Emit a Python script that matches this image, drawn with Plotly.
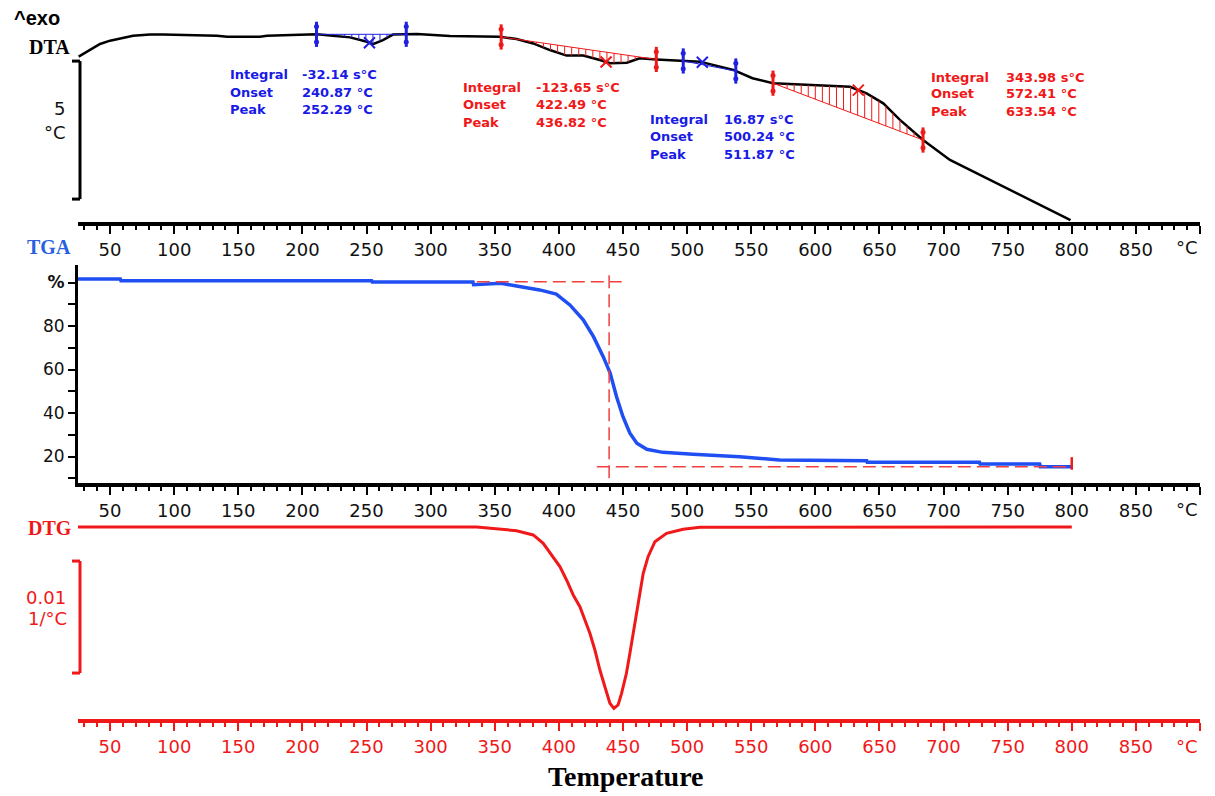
import numpy as np
import plotly.graph_objects as go

# ---------------- data ----------------
# DTA curve (temperature in °C, signal in °C units)
dta_T = [25.5, 34.4, 42.2, 50, 57.8, 67.9, 81.2, 91.3, 133.4, 141.2, 166.9, 172.4, 198, 211.4, 223.8,
         237.1, 250.4, 255, 262.8, 270.6, 289.3, 315, 354, 367, 380, 393, 406, 419, 432, 440, 453,
         463, 476, 494, 510, 536, 551, 567, 604, 627, 640, 653, 666, 684, 705, 731, 757, 783, 799]
dta_v = [5.99, 6.23, 6.45, 6.57, 6.66, 6.75, 6.79, 6.79, 6.75, 6.71, 6.71, 6.75, 6.78, 6.80, 6.75,
         6.69, 6.53, 6.44, 6.59, 6.79, 6.81, 6.74, 6.71, 6.63, 6.47, 6.23, 6.03, 6.03, 5.87, 5.75, 5.77,
         5.93, 5.89, 5.84, 5.81, 5.51, 5.21, 5.03, 4.94, 4.90, 4.66, 4.30, 3.70, 2.97, 2.25, 1.64, 1.04, 0.43, 0.07]

# DTA peak evaluation
blue_limits = [(211, 281), (497, 538)]
red_limits = [(355, 476), (567, 684)]
blue_peaks = [252.29, 511.87]
red_peaks = [436.82, 633.54]
blue_results = [("-32.14 s°C", "240.87 °C", "252.29 °C"), ("16.87 s°C", "500.24 °C", "511.87 °C")]
red_results = [("-123.65 s°C", "422.49 °C", "436.82 °C"), ("343.98 s°C", "572.41 °C", "633.54 °C")]

# TGA curve (%)
tga_T = [25, 58, 58.5, 254, 254.5, 333, 333.5, 345, 355, 367, 385, 398, 408.6, 419, 427, 434.6, 440,
         445, 450, 455.3, 460.8, 468.6, 481, 504.6, 541, 572, 604, 640, 640.5, 728, 728.5, 775, 775.5, 800]
tga_v = [101.6, 101.6, 100.8, 100.8, 100.2, 100.2, 99.0, 99.3, 99.6, 98.4, 96.6, 94.7, 89.7, 82.8, 75.1,
         65.9, 58.4, 47.5, 38.3, 30.8, 26.1, 23.3, 21.9, 21.0, 19.9, 18.4, 18.1, 18.1, 17.4, 17.4, 16.6,
         16.6, 15.3, 15.3]
tga_onset_T = 439.2
tga_top_level = 100.4
tga_bottom_level = 15.3

# DTG curve (1/°C)
dtg_T = [25, 335.8, 367, 380, 387.8, 395.6, 400.8, 406, 411.2, 416.4, 420.3, 424.2, 428.1, 432, 435.9,
         439.8, 442.9, 446.2, 448.9, 452.7, 455.4, 458, 460.6, 463.2, 465.8, 469.6, 474.9, 484, 496.9, 510, 800]
dtg_v = [0, 0, -0.00033, -0.00071, -0.00146, -0.00265, -0.00354, -0.00473, -0.00607, -0.00711, -0.0083,
         -0.00949, -0.01098, -0.01277, -0.01426, -0.01574, -0.01619, -0.01589, -0.01485, -0.01306, -0.01128,
         -0.00949, -0.00741, -0.00563, -0.00413, -0.00265, -0.00131, -0.00056, -0.00021, -0.00003, 0]

tick_vals = list(range(50, 901, 50))
tick_text = [str(v) for v in range(50, 851, 50)] + [""]
unit_label = "°C"

# ---------------- styling ----------------
OFF = 8                      # page body margin of the html file
W, H = 1207, 788
L, R = 70, 15                # plot area spans 78..1200 px of the window
BLUE_TXT = "#1a1ae6"
RED = "#f01818"
TGA_BLUE = "#1f4ff2"
TXT_FONT = "DejaVu Sans"


def px_x(px):
    return (px - OFF - L) / (W - L - R)


def px_y(py):
    return (H - (py - OFF)) / H


fig = go.Figure()

# DTA curve
fig.add_trace(go.Scatter(x=dta_T, y=dta_v, xaxis="x", yaxis="y", mode="lines",
                         line=dict(color="black", width=2.5), hoverinfo="skip"))


def hatch(t0, t1, step=5.5):
    b0, b1 = np.interp([t0, t1], dta_T, dta_v)
    xs, ys = [], []
    for t in np.arange(t0 + step, t1, step):
        c = float(np.interp(t, dta_T, dta_v))
        b = b0 + (b1 - b0) * (t - t0) / (t1 - t0)
        xs += [t, t, None]
        ys += [b, c, None]
    xs += [t0, t1]
    ys += [b0, b1]
    return xs, ys


for limits, col in ((blue_limits, "#2020e0"), (red_limits, RED)):
    for (t0, t1) in limits:
        hx, hy = hatch(t0, t1)
        fig.add_trace(go.Scatter(x=hx, y=hy, xaxis="x", yaxis="y", mode="lines",
                                 line=dict(color=col, width=1), hoverinfo="skip"))

# limit markers and peak crosses
for limits, peaks, col in ((blue_limits, blue_peaks, "#2020e0"), (red_limits, red_peaks, RED)):
    lt = [t for pair in limits for t in pair]
    lv = list(np.interp(lt, dta_T, dta_v))
    fig.add_trace(go.Scatter(x=lt, y=lv, xaxis="x", yaxis="y", mode="markers",
                             marker=dict(symbol="line-ns", size=18, line=dict(color=col, width=3)),
                             hoverinfo="skip"))
    fig.add_trace(go.Scatter(x=lt + lt, y=[v + 0.28 for v in lv] + [v - 0.28 for v in lv],
                             xaxis="x", yaxis="y", mode="markers",
                             marker=dict(symbol="circle", size=5, color=col), hoverinfo="skip"))
    pv = list(np.interp(peaks, dta_T, dta_v))
    fig.add_trace(go.Scatter(x=peaks, y=pv, xaxis="x", yaxis="y", mode="markers",
                             marker=dict(symbol="x-thin", size=11, line=dict(color=col, width=2)),
                             hoverinfo="skip"))

# TGA curve and onset construction
fig.add_trace(go.Scatter(x=tga_T, y=tga_v, xaxis="x2", yaxis="y2", mode="lines",
                         line=dict(color=TGA_BLUE, width=3.5), hoverinfo="skip"))
dash = dict(color="#f04040", width=1.5, dash="13px,6px")
fig.add_trace(go.Scatter(x=[336, 449], y=[tga_top_level] * 2, xaxis="x2", yaxis="y2", mode="lines",
                         line=dash, hoverinfo="skip"))
fig.add_trace(go.Scatter(x=[tga_onset_T] * 2, y=[10.0, 105.7], xaxis="x2", yaxis="y2", mode="lines",
                         line=dash, hoverinfo="skip"))
fig.add_trace(go.Scatter(x=[429.6, 800], y=[tga_bottom_level] * 2, xaxis="x2", yaxis="y2", mode="lines",
                         line=dash, hoverinfo="skip"))
fig.add_trace(go.Scatter(x=[800], y=[tga_v[-1] + 1.5], xaxis="x2", yaxis="y2", mode="markers",
                         marker=dict(symbol="line-ns", size=9, line=dict(color=RED, width=2.5)),
                         hoverinfo="skip"))

# DTG curve
fig.add_trace(go.Scatter(x=dtg_T, y=dtg_v, xaxis="x3", yaxis="y3", mode="lines",
                         line=dict(color=RED, width=3), hoverinfo="skip"))


def xaxis(anchor, color):
    return dict(domain=[0, 1], anchor=anchor, range=[25, 900], showline=True, linewidth=4,
                linecolor=color, ticks="outside", ticklen=8, tickwidth=1.5, tickcolor=color,
                tickmode="array", tickvals=tick_vals, ticktext=tick_text,
                tickfont=dict(family=TXT_FONT, size=18, color=color if color != "black" else "#111"),
                minor=dict(tick0=0, dtick=10, ticks="outside", ticklen=4, tickwidth=1.5, tickcolor=color),
                showgrid=False, zeroline=False, fixedrange=True, automargin=False)


hidden_y = dict(showline=False, showticklabels=False, ticks="", showgrid=False, zeroline=False,
                fixedrange=True)

fig.update_layout(
    width=W, height=H, margin=dict(l=L, r=R, t=0, b=0),
    paper_bgcolor="white", plot_bgcolor="white", showlegend=False,
    xaxis=xaxis("y", "black"),
    xaxis2=xaxis("y2", "black"),
    xaxis3=xaxis("y3", RED),
    yaxis=dict(domain=[px_y(222), px_y(15)], range=[0, 7.5], anchor="x", **hidden_y),
    yaxis2=dict(domain=[px_y(483), px_y(265)], range=[100 - (483 - 282.5) / 2.175, 100 + (282.5 - 265) / 2.175],
                anchor="x2", showline=True, linewidth=3, linecolor="black", ticks="outside", ticklen=7,
                tickwidth=1.5, tickcolor="black", tickmode="array", tickvals=[20, 40, 60, 80, 100],
                ticktext=["20", "40", "60", "80", "<b>%</b>"],
                tickfont=dict(family=TXT_FONT, size=17, color="#111"),
                minor=dict(dtick=10, tick0=0, ticks="outside", ticklen=7, tickwidth=1.5, tickcolor="black"),
                showgrid=False, zeroline=False, fixedrange=True, automargin=False),
    yaxis3=dict(domain=[px_y(719), px_y(515)], range=[-(719 - 527) / 112 * 0.01, (527 - 515) / 112 * 0.01],
                anchor="x3", **hidden_y),
)


# scale brackets
def bracket(yref, y0, y1, color):
    xa, xb = px_x(80), px_x(72)
    for p in ([(xa, y0), (xa, y1)], [(xb, y0), (xa, y0)], [(xb, y1), (xa, y1)]):
        fig.add_shape(type="line", xref="paper", yref=yref, x0=p[0][0], y0=p[0][1], x1=p[1][0], y1=p[1][1],
                      line=dict(color=color, width=3))


bracket("y", 0.83, 0.83 + 5, "black")
bracket("y3", -0.01304, -0.01304 + 0.01, RED)

# DTA result annotations
label_rows = ["Integral", "Onset", "Peak"]
blocks = [
    (blue_results[0], BLUE_TXT, 142, 198, [5.36, 4.71, 4.06]),
    (red_results[0], RED, 323.6, 381, [4.89, 4.24, 3.62]),
    (blue_results[1], BLUE_TXT, 469.4, 527, [3.70, 3.08, 2.43]),
    (red_results[1], RED, 689, 747, [5.25, 4.64, 3.99]),
]
for vals, col, xl, xv, ys in blocks:
    for lab, val, yy in zip(label_rows, vals, ys):
        for xx, txt in ((xl, lab), (xv, val)):
            fig.add_annotation(x=xx, y=yy, xref="x", yref="y", text="<b>" + txt + "</b>", showarrow=False,
                               xanchor="left", yanchor="middle",
                               font=dict(family=TXT_FONT, size=13, color=col))


# panel labels
def label(px, py, txt, fam, size, color, anchor="center"):
    fig.add_annotation(x=px_x(px), y=px_y(py), xref="paper", yref="paper", text=txt, showarrow=False,
                       xanchor=anchor, yanchor="middle", font=dict(family=fam, size=size, color=color))


# unit label at the right end of each temperature axis
for xr, py, col in (("x", 247, "#111"), ("x2", 509, "#111"), ("x3", 746, RED)):
    fig.add_annotation(x=900, y=px_y(py), xref=xr, yref="paper", text=unit_label, showarrow=False,
                       xanchor="right", yanchor="middle", font=dict(family=TXT_FONT, size=18, color=col))

label(12, 18, "<b>^exo</b>", "Liberation Sans", 20, "black", "left")
label(49, 47, "<b>DTA</b>", "Liberation Serif", 20, "black")
label(49, 247, "<b>TGA</b>", "Liberation Serif", 20, "#2a5fe0")
label(50, 528, "<b>DTG</b>", "Liberation Serif", 20, RED)
label(67, 108, "5", TXT_FONT, 18, "#111", "right")
label(68, 132, "°C", TXT_FONT, 18, "#111", "right")
label(68, 597, "0.01", TXT_FONT, 18, RED, "right")
label(69, 618, "1/°C", TXT_FONT, 18, RED, "right")
label(626, 776, "<b>Temperature</b>", "Liberation Serif", 28, "black")

fig.write_html("out.html")
